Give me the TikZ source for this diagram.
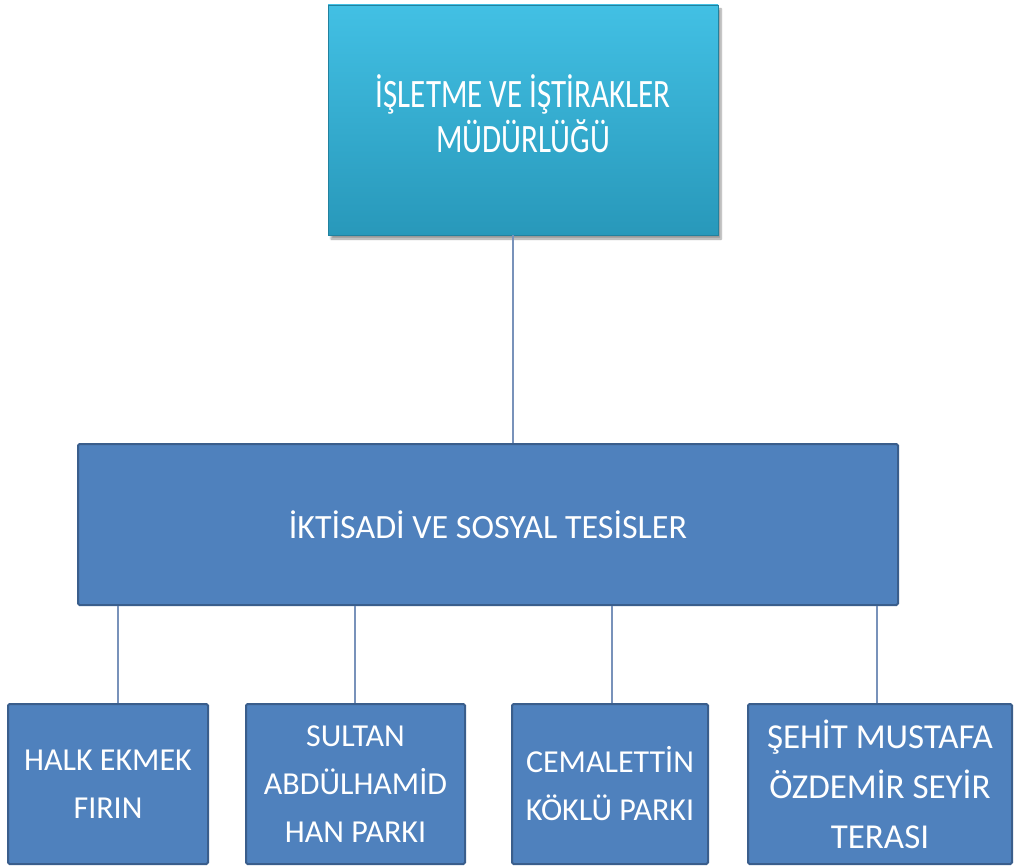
\documentclass[tikz,border=0pt]{standalone}
\usepackage{fontspec}
\setmainfont{Carlito}
\usetikzlibrary{shadows.blur}
\definecolor{cyantop}{RGB}{66,192,228}
\definecolor{cyanbot}{RGB}{40,152,186}
\definecolor{unitblue}{RGB}{79,129,189}
\definecolor{unitedge}{RGB}{58,94,140}
\definecolor{linkblue}{RGB}{120,146,186}
\newcommand{\tallstack}[1]{\scalebox{1}[1.3]{\begin{tabular}{@{}c@{}}#1\end{tabular}}}

\begin{document}
\begin{tikzpicture}[x=1pt,y=-1pt,
  headbox/.style={rectangle,inner sep=0pt,top color=cyantop,bottom color=cyanbot,
    draw=cyanbot!85!black,line width=0.6pt,
    blur shadow={shadow xshift=3pt,shadow yshift=-4pt,shadow blur steps=6},
    text=white,align=center,font=\fontsize{31}{32}\selectfont},
  unitbox/.style={rectangle,inner sep=0pt,fill=unitblue,draw=unitedge,line width=2pt,
    rounded corners=1.5pt,text=white,align=center,font=\fontsize{34}{40}\selectfont},
  subbox/.style={unitbox,minimum height=160pt,font=\fontsize{32}{48}\selectfont},
  link/.style={draw=linkblue,line width=1.4pt}]
\useasboundingbox (0,0) rectangle (1016,866);

% top unit
\node[headbox,minimum width=390pt,minimum height=230pt] (head) at (523,120)
  {\tallstack{İŞLETME VE İŞTİRAKLER\\MÜDÜRLÜĞÜ}};

% middle unit
\node[unitbox,minimum width=820pt,minimum height=161pt] (tesis) at (488,524.5)
  {İKTİSADİ VE SOSYAL TESİSLER};

% sub units
\node[subbox,minimum width=200pt] (firin) at (108,784) {HALK EKMEK\\FIRIN};
\node[subbox,minimum width=219pt] (sultan) at (355.5,784) {SULTAN\\ABDÜLHAMİD\\HAN PARKI};
\node[subbox,minimum width=196pt] (koklu) at (610,784) {CEMALETTİN\\KÖKLÜ PARKI};
\node[subbox,minimum width=264pt,font=\fontsize{35}{50}\selectfont] (seyir) at (880,784)
  {ŞEHİT MUSTAFA\\ÖZDEMİR SEYİR\\TERASI};

% connectors
\draw[link] (head.south -| 513,0) -- (tesis.north -| 513,0);
\foreach \b/\x in {firin/118,sultan/355,koklu/612,seyir/877}
  \draw[link] (tesis.south -| \x,0) -- (\b.north -| \x,0);
\end{tikzpicture}
\end{document}
